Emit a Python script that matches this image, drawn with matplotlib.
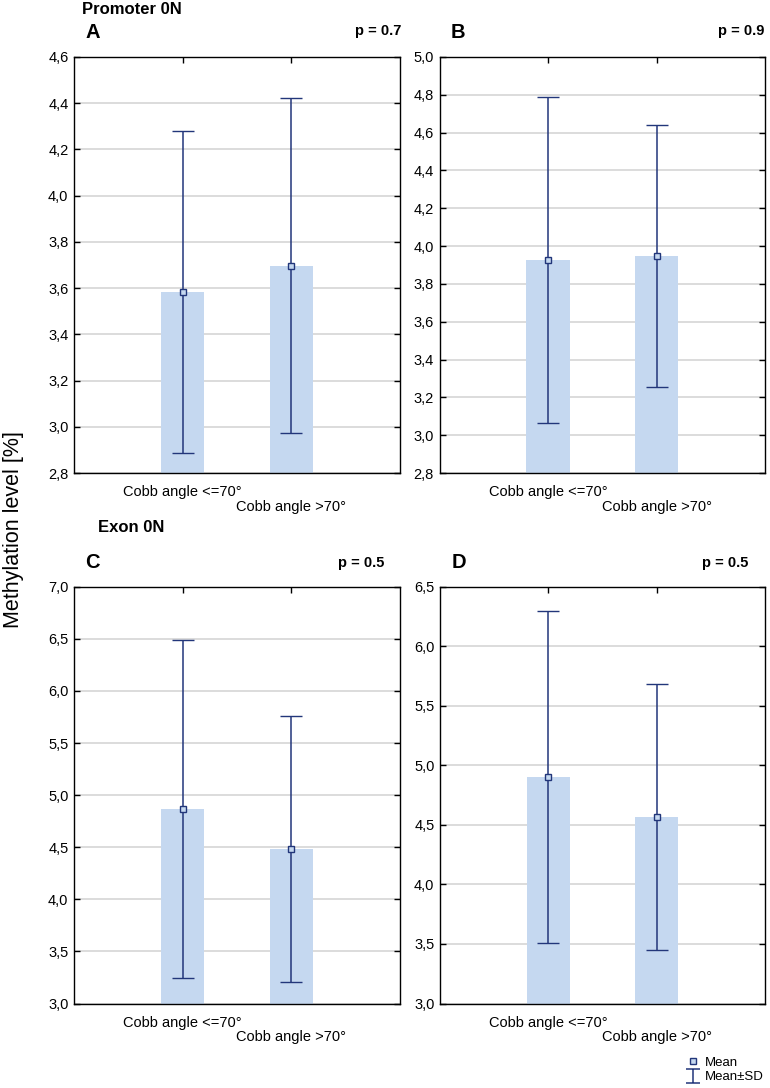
import matplotlib
matplotlib.use("Agg")
import matplotlib.pyplot as plt
from matplotlib.lines import Line2D
from matplotlib.path import Path
from matplotlib.ticker import FuncFormatter
import numpy as np

plt.rcParams['font.family'] = ['Liberation Sans', 'DejaVu Sans']

categories = ["Cobb angle <=70°", "Cobb angle >70°"]

means_A = [3.582, 3.697]
sd_A = [0.697, 0.725]
means_B = [3.926, 3.948]
sd_B = [0.860, 0.695]
means_C = [4.865, 4.485]
sd_C = [1.620, 1.275]
means_D = [4.904, 4.565]
sd_D = [1.396, 1.118]

panel_letters = ["A", "B", "C", "D"]
p_values = ["p = 0.7", "p = 0.9", "p = 0.5", "p = 0.5"]
section_titles = ["Promoter 0N", "Exon 0N"]
ylims = [(2.8, 4.6), (2.8, 5.0), (3.0, 7.0), (3.0, 6.5)]
ysteps = [0.2, 0.2, 0.5, 0.5]
ylabel = "Methylation level [%]"

BAR = "#c5d8f0"
NAVY = "#22367a"
GRID = "#d9d9d9"

W, H = 770, 1088
fig = plt.figure(figsize=(W / 100, H / 100), dpi=100)

def rect(l, t, r, b):
    return [l / W, 1 - b / H, (r - l) / W, (b - t) / H]

rects = [rect(74, 57, 400, 473), rect(439.5, 57, 765, 473),
         rect(74, 586.7, 400, 1003.5), rect(440, 586.7, 765, 1003.5)]
data = [(means_A, sd_A), (means_B, sd_B), (means_C, sd_C), (means_D, sd_D)]

comma_fmt = FuncFormatter(lambda v, pos: f"{v:.1f}".replace(".", ","))

for i, (r, (m, s)) in enumerate(zip(rects, data)):
    ax = fig.add_axes(r)
    x = np.arange(1, len(categories) + 1)
    lo, hi = ylims[i]
    ax.bar(x, [v - lo for v in m], bottom=lo, width=0.4, color=BAR, zorder=2)
    ax.errorbar(x, m, yerr=s, fmt='s', color=NAVY, ecolor=NAVY, elinewidth=1.1,
                capsize=8, capthick=1.1, markersize=5, mfc=BAR, mec=NAVY,
                mew=1.0, zorder=3)
    ax.set_xlim(0, 3)
    ax.set_ylim(lo, hi)
    ax.set_yticks(np.arange(lo, hi + 1e-9, ysteps[i]))
    ax.yaxis.set_major_formatter(comma_fmt)
    ax.set_xticks(x)
    ax.set_xticklabels([])
    ax.grid(axis='y', color=GRID, linewidth=1.3, zorder=0)
    ax.set_axisbelow(True)
    ax.tick_params(axis='both', direction='in', length=4, width=1,
                   top=True, right=True, labelsize=10.5, colors='black')
    ax.tick_params(axis='y', pad=4)
    for sp in ax.spines.values():
        sp.set_linewidth(1.0)
        sp.set_color('black')
    # staggered category labels
    for j, lab in enumerate(categories):
        ax.annotate(lab, xy=(x[j], lo), xycoords='data',
                    xytext=(0, -19 - 15 * j), textcoords='offset pixels',
                    ha='center', va='center', fontsize=10.5)
    ax.text(0.035, 1.035, panel_letters[i], transform=ax.transAxes,
            fontsize=14.5, fontweight='bold', ha='left', va='bottom')

# p-values
p_pos = [(401, 31), (764, 31), (384, 563), (748, 563)]
for (px, py), p in zip(p_pos, p_values):
    fig.text(px / W, 1 - py / H, p, fontsize=10.5, fontweight='bold',
             ha='right', va='center')

fig.text(82 / W, 1 - 9 / H, section_titles[0], fontsize=12,
         fontweight='bold', ha='left', va='center')
fig.text(98 / W, 1 - 527 / H, section_titles[1], fontsize=12,
         fontweight='bold', ha='left', va='center')

fig.text(14 / W, 1 - 530 / H, ylabel, rotation=90, fontsize=15.5,
         ha='center', va='center')

# legend
sd_marker = Path([(-0.5, 0.5), (0.5, 0.5), (0, 0.5), (0, -0.5), (-0.5, -0.5), (0.5, -0.5)],
                 [Path.MOVETO, Path.LINETO, Path.MOVETO, Path.LINETO, Path.MOVETO, Path.LINETO])
h1 = Line2D([], [], marker='s', ls='none', mfc=BAR, mec=NAVY, ms=5, mew=1.0)
h2 = Line2D([], [], marker=sd_marker, ls='none', mec=NAVY, ms=10, mew=1.1)
fig.legend([h1, h2], ["Mean", "Mean±SD"], loc='center left',
           bbox_to_anchor=(686 / W, 1 - 1070 / H), frameon=False,
           fontsize=9.5, handlelength=1.0, handletextpad=0.4,
           labelspacing=0.15, borderpad=0, borderaxespad=0)

fig.savefig("out.png", dpi=100)
